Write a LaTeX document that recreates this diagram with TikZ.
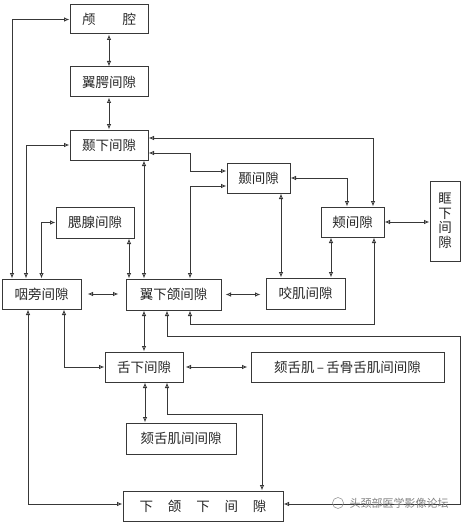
\documentclass[tikz,border=0pt]{standalone}
\usepackage{fontspec}
\setmainfont{Noto Sans CJK SC}
\usetikzlibrary{arrows.meta}
\definecolor{ln}{HTML}{383838}
\tikzset{
 box/.style={draw=ln, line width=1pt, inner sep=0pt, font=\fontsize{13.5}{15}\selectfont, text=black!85},
 conn/.style={draw=ln, line width=0.9pt, {Latex[open,length=5.5pt,width=4.5pt]}-{Latex[open,length=5.5pt,width=4.5pt]}},
}
\begin{document}
\begin{tikzpicture}[x=1pt,y=-1pt]
\useasboundingbox (0,0) rectangle (464,524);
% boxes
\node[box, minimum width=78pt, minimum height=29pt] (lq) at (109,19.5) {颅\hspace{2em}腔};
\node[box, minimum width=78pt, minimum height=30pt] (yy) at (109,82) {翼腭间隙};
\node[box, minimum width=78pt, minimum height=30pt] (nx) at (109,145) {颞下间隙};
\node[box, minimum width=63pt, minimum height=30pt] (nj) at (258.5,178) {颞间隙};
\node[box, minimum width=63pt, minimum height=30pt] (jj) at (352.5,222) {颊间隙};
\node[box, minimum width=30pt, minimum height=80pt, align=center, font=\fontsize{13.5}{14.5}\selectfont] (kx) at (445,221) {眶\\下\\间\\隙};
\node[box, minimum width=79pt, minimum height=31pt] (ya) at (305.5,293.5) {咬肌间隙};
\node[box, minimum width=78pt, minimum height=31pt] (sx) at (95,222.5) {腮腺间隙};
\node[box, minimum width=79pt, minimum height=30pt] (yp) at (41.5,294) {咽旁间隙};
\node[box, minimum width=95pt, minimum height=31pt] (yx) at (173.5,294.5) {翼下颌间隙};
\node[box, minimum width=78pt, minimum height=30pt] (sh) at (144,367) {舌下间隙};
\node[box, minimum width=193pt, minimum height=30pt] (kg) at (347.5,367) {颏舌肌\,–\,舌骨舌肌间间隙};
\node[box, minimum width=110pt, minimum height=31pt] (kj) at (181,438.5) {颏舌肌间间隙};
\node[box, minimum width=160pt, minimum height=30pt] (xh) at (203,506) {下\hspace{1.1em}颌\hspace{1.1em}下\hspace{1.1em}间\hspace{1.1em}隙};
% connectors
\draw[conn] (lq.south) -- (yy.north);
\draw[conn] (yy.south) -- (nx.north);
\draw[conn] (lq.west) -| ([xshift=-29.5pt]yp.north);
\draw[conn] (nx.west) -| ([xshift=-15.5pt]yp.north);
\draw[conn] (sx.west) -| (yp.north);
\draw[conn, shorten <=6pt, shorten >=7pt] (yp.east) -- (yp.east -| yx.west);
\draw[conn, shorten <=4pt, shorten >=5pt] (yx.east) -- (yx.east -| ya.west);
\draw[conn] (jj.east) -- (jj.east -| kx.west);
\draw[conn, shorten <=2pt, shorten >=3pt] (sh.east) -- (kg.west);
\draw[conn] ([xshift=-13.5pt]yp.south) |- ([yshift=2pt]xh.west);
\draw[conn] ([xshift=22.5pt]yp.south) |- (sh.west);
\draw[conn] ([xshift=34pt]sx.south) -- ([xshift=34pt]sx.south |- yx.north);
\draw[conn] ([xshift=35pt]nx.south) -- ([xshift=35pt]nx.south |- yx.north);
\draw[conn] ([xshift=16.5pt]yx.north) |- ([yshift=-8pt]nj.west);
\draw[conn] ([yshift=-8pt]nx.east) -- ++(42,0) |- ([yshift=7pt]nj.west);
\draw[conn] ([yshift=7pt]nx.east) -| ([xshift=20.5pt]jj.north);
\draw[conn] (nj.east) -| ([xshift=-5.5pt]jj.north);
\draw[conn] ([xshift=22.5pt]nj.south) -- ([xshift=22.5pt]nj.south |- ya.north);
\draw[conn] ([xshift=-21.5pt]jj.south) -- ([xshift=-21.5pt]jj.south |- ya.north);
\draw[conn] ([xshift=16.5pt]yx.south) -- ++(0,14) -| ([xshift=21.5pt]jj.south);
\draw[conn] ([xshift=-6.5pt]yx.south) -- ++(0,26) -- ++(293,0) |- ([yshift=2pt]xh.east);
\draw[conn] (yx.south -| sh.north) -- (sh.north);
\draw[conn] ([xshift=1pt]sh.south) -- ([xshift=1pt]sh.south |- kj.north);
\draw[conn] ([xshift=23pt]sh.south) -- ++(0,32) -| ([xshift=59pt]xh.north);
% watermark
\node[circle, draw=black!40, line width=0.6pt, minimum size=11pt, inner sep=0pt] (wmi) at (338,503) {};
\node[font=\fontsize{11}{11}\selectfont, text=black!50, inner sep=0pt] (wm) at (399,503) {头颈部医学影像论坛};
\end{tikzpicture}
\end{document}
